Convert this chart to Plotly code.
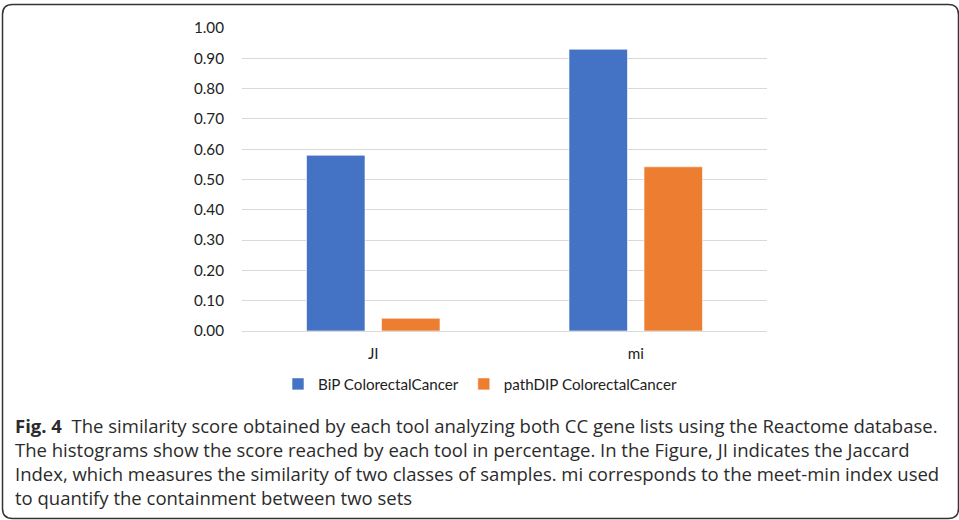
import plotly.graph_objects as go

categories = ["JI", "mi"]
bip_values = [0.58, 0.93]
pathdip_values = [0.042, 0.542]
series_names = ["BiP ColorectalCancer", "pathDIP ColorectalCancer"]
tick_vals = [0.0, 0.1, 0.2, 0.3, 0.4, 0.5, 0.6, 0.7, 0.8, 0.9, 1.0]
tick_text = ["0.00", "0.10", "0.20", "0.30", "0.40", "0.50", "0.60", "0.70", "0.80", "0.90", "1.00"]
caption_lines = [
    "<b>Fig. 4</b>  The similarity score obtained by each tool analyzing both CC gene lists using the Reactome database.",
    "The histograms show the score reached by each tool in percentage. In the Figure, JI indicates the Jaccard",
    "Index, which measures the similarity of two classes of samples. mi corresponds to the meet-min index used",
    "to quantify the containment between two sets",
]

W, H = 959, 520
L, R, T, B = 242, 767, 28, 331
pw, ph = R - L, B - T

def px(x):
    return (x - L) / pw

def py(y):
    return (B - y) / ph

fig = go.Figure()
fig.add_trace(go.Bar(x=categories, y=bip_values, name=series_names[0],
                     marker=dict(color="#4472C4", line=dict(color="rgba(255,255,255,0.6)", width=1))))
fig.add_trace(go.Bar(x=categories, y=pathdip_values, name=series_names[1],
                     marker=dict(color="#ED7D31", line=dict(color="rgba(255,255,255,0.6)", width=1))))

chart_font = "Lato, Carlito, Calibri, sans-serif"
fs = 15.2

fig.update_layout(
    width=W, height=H,
    margin=dict(l=L, r=W - R, t=T, b=H - B, pad=0),
    paper_bgcolor="white", plot_bgcolor="white",
    barmode="group", bargap=0.4286, bargroupgap=0.22,
    font=dict(family=chart_font, size=fs, color="#222222"),
    showlegend=True,
    legend=dict(orientation="h", x=px(278), xanchor="left", y=py(384), yanchor="middle",
                font=dict(family=chart_font, size=fs, color="#222222"),
                itemwidth=30, traceorder="normal", bgcolor="rgba(0,0,0,0)"),
    xaxis=dict(showgrid=False, showline=False, ticks="outside", ticklen=9,
               tickcolor="rgba(0,0,0,0)", zeroline=False,
               tickfont=dict(family=chart_font, size=fs, color="#222222")),
    yaxis=dict(range=[0, 1.0], tickvals=tick_vals, ticktext=tick_text,
               showgrid=True, gridcolor="#D9D9D9", gridwidth=1, zeroline=True,
               zerolinecolor="#D9D9D9", zerolinewidth=1, showline=False,
               ticks="outside", ticklen=14, tickcolor="rgba(0,0,0,0)",
               tickfont=dict(family=chart_font, size=fs, color="#222222")),
)

# rounded border box
x0, x1 = 2.5, 958.5
y0, y1 = 4.5, 518.5
r = 10
rx, ry = r / pw, r / ph
path = (f"M {px(x0)},{py(y0) - ry} "
        f"Q {px(x0)},{py(y0)} {px(x0) + rx},{py(y0)} "
        f"L {px(x1) - rx},{py(y0)} "
        f"Q {px(x1)},{py(y0)} {px(x1)},{py(y0) - ry} "
        f"L {px(x1)},{py(y1) + ry} "
        f"Q {px(x1)},{py(y1)} {px(x1) - rx},{py(y1)} "
        f"L {px(x0) + rx},{py(y1)} "
        f"Q {px(x0)},{py(y1)} {px(x0)},{py(y1) + ry} Z")
fig.add_shape(type="path", xref="paper", yref="paper", path=path,
              line=dict(color="#333333", width=1.5), fillcolor="rgba(0,0,0,0)")

fig.add_annotation(xref="paper", yref="paper", x=px(13), y=py(411),
                   xanchor="left", yanchor="top", align="left", showarrow=False,
                   text="<br>".join(caption_lines),
                   font=dict(family="Open Sans, Noto Sans, sans-serif", size=18.5, color="#2b2b2b"))

fig.write_html("out.html")
